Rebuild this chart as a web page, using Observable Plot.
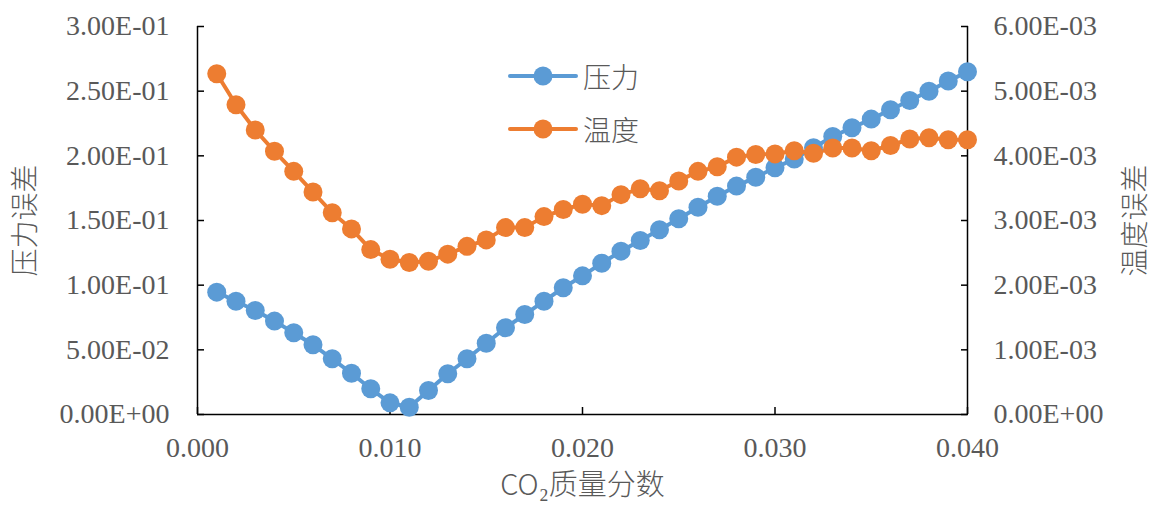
<!DOCTYPE html>
<html><head><meta charset="utf-8">
<script src="https://cdn.jsdelivr.net/npm/d3@7"></script>
<script src="https://cdn.jsdelivr.net/npm/@observablehq/plot@0.6"></script>
<style>
body{margin:0;background:#fff;}
#wrap{position:relative;width:1155px;height:510px;}
#legend{position:absolute;left:508px;top:49px;font-family:"Noto Sans CJK SC";font-weight:300;font-size:28px;color:#595959;}
#legend .row{display:flex;align-items:center;height:53px;}
#legend svg{margin-right:5px;}
</style></head>
<body><div id="wrap"><div id="legend"></div></div>
<script>
const xs = [0.001,0.002,0.003,0.004,0.005,0.006,0.007,0.008,0.009,0.010,
            0.011,0.012,0.013,0.014,0.015,0.016,0.017,0.018,0.019,0.020,
            0.021,0.022,0.023,0.024,0.025,0.026,0.027,0.028,0.029,0.030,
            0.031,0.032,0.033,0.034,0.035,0.036,0.037,0.038,0.039,0.040];
const pressure = [0.0946,0.0876,0.0804,0.0722,0.0632,0.0539,0.0431,0.0319,0.0199,0.0090,
                  0.0056,0.0186,0.0315,0.0431,0.0551,0.0671,0.0773,0.0876,0.0980,0.1072,
                  0.1170,0.1263,0.1346,0.1428,0.1513,0.1603,0.1688,0.1766,0.1835,0.1908,
                  0.1975,0.2062,0.2150,0.2217,0.2284,0.2356,0.2428,0.2500,0.2578,0.2650];
const temperature = [5.27e-3,4.79e-3,4.40e-3,4.07e-3,3.76e-3,3.44e-3,3.12e-3,2.87e-3,2.55e-3,2.40e-3,
                     2.35e-3,2.37e-3,2.48e-3,2.60e-3,2.70e-3,2.89e-3,2.89e-3,3.06e-3,3.17e-3,3.25e-3,
                     3.23e-3,3.40e-3,3.49e-3,3.46e-3,3.61e-3,3.76e-3,3.83e-3,3.98e-3,4.02e-3,4.03e-3,
                     4.08e-3,4.04e-3,4.12e-3,4.12e-3,4.08e-3,4.16e-3,4.26e-3,4.28e-3,4.25e-3,4.25e-3];
const series = ["压力","温度"];
const colors = ["#5B9BD5","#ED7D31"];
const xTicks = [0,0.01,0.02,0.03,0.04];
const xTickLabels = ["0.000","0.010","0.020","0.030","0.040"];
const leftTicks = [0,0.05,0.10,0.15,0.20,0.25,0.30];
const leftTickLabels = ["0.00E+00","5.00E-02","1.00E-01","1.50E-01","2.00E-01","2.50E-01","3.00E-01"];
const rightTicks = [0,0.001,0.002,0.003,0.004,0.005,0.006];
const rightTickLabels = ["0.00E+00","1.00E-03","2.00E-03","3.00E-03","4.00E-03","5.00E-03","6.00E-03"];
const xLabel = "CO₂质量分数";
const yLeftLabel = "压力误差";
const yRightLabel = "温度误差";

const ratio = leftTicks[leftTicks.length-1] / rightTicks[rightTicks.length-1];
const rows = xs.flatMap((x,i)=>[
  {x, y: pressure[i], s: series[0]},
  {x, y: temperature[i]*ratio, s: series[1]}
]);
const rightTicksScaled = rightTicks.map(d=>d*ratio);
const cjk = "Noto Sans CJK SC";
const grey = "#595959";

const chart = Plot.plot({
  width: 1155, height: 510,
  marginLeft: 197, marginRight: 188, marginTop: 26, marginBottom: 96,
  x: {domain: [0, 0.04]},
  y: {domain: [0, 0.3]},
  color: {domain: series, range: colors},
  style: {fontFamily: "Liberation Serif", fontSize: "28px", color: grey, background: "white"},
  marks: [
    Plot.axisX({ticks: xTicks, tickSize: -7, tickPadding: 30, tickFormat: d => xTickLabels[xTicks.indexOf(d)], label: null, stroke: "black", strokeWidth: 1.5, fill: grey}),
    Plot.axisY({anchor: "left", ticks: leftTicks, tickSize: -7, tickPadding: 35, tickFormat: d => leftTickLabels[leftTicks.indexOf(d)], label: null, stroke: "black", strokeWidth: 1.5, fill: grey}),
    Plot.axisY({anchor: "right", ticks: rightTicksScaled, tickSize: -7, tickPadding: 33, tickFormat: d => rightTickLabels[rightTicksScaled.indexOf(d)], label: null, stroke: "black", strokeWidth: 1.5, fill: grey}),
    Plot.ruleX([0, 0.04], {stroke: "black", strokeWidth: 1.5}),
    Plot.ruleY([0], {stroke: "black", strokeWidth: 1.5}),
    Plot.line(rows, {x: "x", y: "y", z: "s", stroke: "s", strokeWidth: 4}),
    Plot.dot(rows, {x: "x", y: "y", fill: "s", r: 9.5}),
    Plot.text([xLabel], {frameAnchor: "bottom", dy: 80, text: d => d, fontFamily: cjk, fontWeight: 300, fontSize: 29, fill: grey}),
    Plot.text([yLeftLabel], {frameAnchor: "left", textAnchor: "middle", dx: -171, rotate: -90, text: d => d, fontFamily: cjk, fontWeight: 300, fontSize: 28, fill: grey}),
    Plot.text([yRightLabel], {frameAnchor: "right", textAnchor: "middle", dx: 169, rotate: -90, text: d => d, fontFamily: cjk, fontWeight: 300, fontSize: 28, fill: grey})
  ]
});
document.getElementById("wrap").prepend(chart);

const legend = document.getElementById("legend");
series.forEach((s,i)=>{
  const row = document.createElement("div");
  row.className = "row";
  row.innerHTML = `<svg width="70" height="24"><line x1="2" y1="12" x2="68" y2="12" stroke="${colors[i]}" stroke-width="4" stroke-linecap="round"/><circle cx="35" cy="12" r="9.5" fill="${colors[i]}"/></svg><span>${s}</span>`;
  legend.appendChild(row);
});
</script>
</body></html>
